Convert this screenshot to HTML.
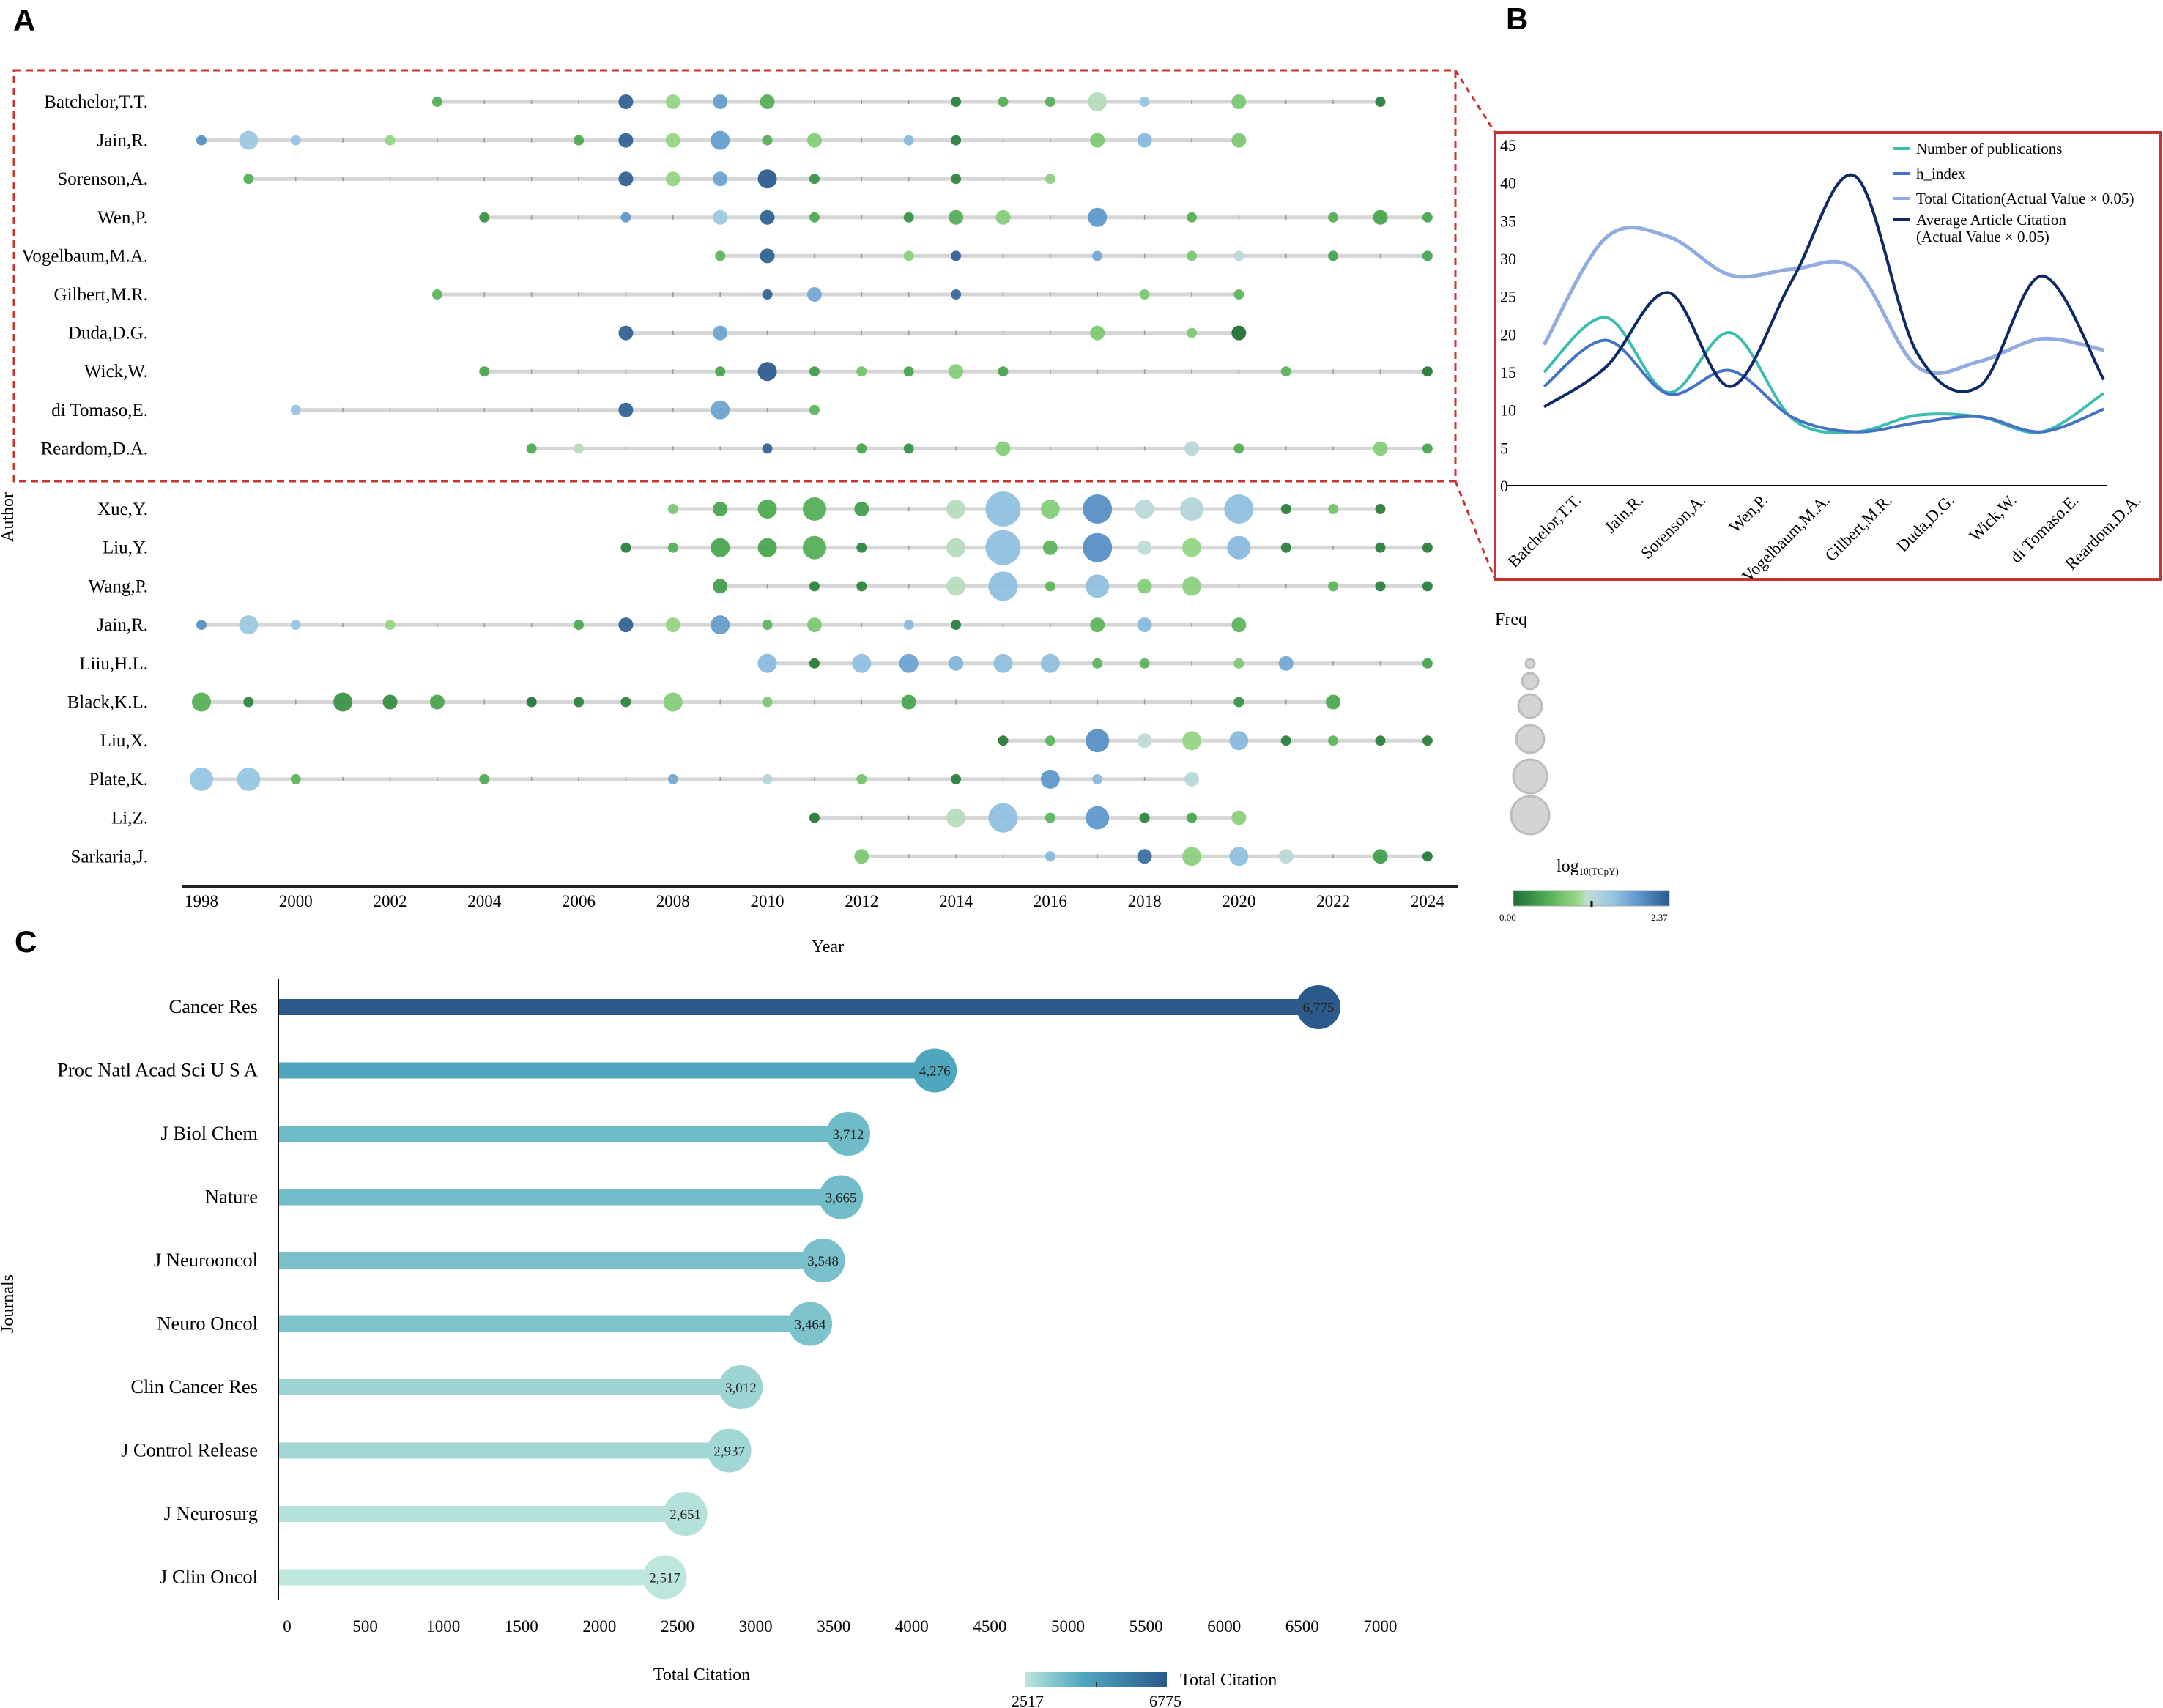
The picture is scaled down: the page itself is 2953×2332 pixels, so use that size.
<!DOCTYPE html>
<html><head><meta charset="utf-8">
<style>
html,body{margin:0;padding:0;background:#fff;}
svg{display:block;font-family:"Liberation Serif",serif;}
</style></head>
<body>
<svg id="fig" width="2953" height="2332" viewBox="0 0 2953 2332" xmlns="http://www.w3.org/2000/svg">
<text x="18" y="42" font-family="Liberation Sans, sans-serif" font-weight="bold" font-size="42">A</text>
<text x="2056" y="40" font-family="Liberation Sans, sans-serif" font-weight="bold" font-size="42">B</text>
<text x="20" y="1300" font-family="Liberation Sans, sans-serif" font-weight="bold" font-size="42">C</text>
<g id="panelA"></g>
<g id="panelB"></g>
<g id="panelC"></g>
</svg>
<script>
const NS='http://www.w3.org/2000/svg';
// ---------- Panel A data ----------
const authorNames=["Batchelor,T.T.","Jain,R.","Sorenson,A.","Wen,P.","Vogelbaum,M.A.","Gilbert,M.R.","Duda,D.G.","Wick,W.","di Tomaso,E.","Reardom,D.A.","Xue,Y.","Liu,Y.","Wang,P.","Jain,R.","Liiu,H.L.","Black,K.L.","Liu,X.","Plate,K.","Li,Z.","Sarkaria,J."];
const yearTicks=[1998,2000,2002,2004,2006,2008,2010,2012,2014,2016,2018,2020,2022,2024];
const rowYears=[
[2003,2007,2008,2009,2010,2014,2015,2016,2017,2018,2020,2023],
[1998,1999,2000,2002,2006,2007,2008,2009,2010,2011,2013,2014,2017,2018,2020],
[1999,2007,2008,2009,2010,2011,2014,2016],
[2004,2007,2009,2010,2011,2013,2014,2015,2017,2019,2022,2023,2024],
[2009,2010,2013,2014,2017,2019,2020,2022,2024],
[2003,2010,2011,2014,2018,2020],
[2007,2009,2017,2019,2020],
[2004,2009,2010,2011,2012,2013,2014,2015,2021,2024],
[2000,2007,2009,2011],
[2005,2006,2010,2012,2013,2015,2019,2020,2023,2024],
[2008,2009,2010,2011,2012,2014,2015,2016,2017,2018,2019,2020,2021,2022,2023],
[2007,2008,2009,2010,2011,2012,2014,2015,2016,2017,2018,2019,2020,2021,2023,2024],
[2009,2011,2012,2014,2015,2016,2017,2018,2019,2022,2023,2024],
[1998,1999,2000,2002,2006,2007,2008,2009,2010,2011,2013,2014,2017,2018,2020],
[2010,2011,2012,2013,2014,2015,2016,2017,2018,2020,2021,2024],
[1998,1999,2001,2002,2003,2005,2006,2007,2008,2010,2013,2020,2022],
[2015,2016,2017,2018,2019,2020,2021,2022,2023,2024],
[1998,1999,2000,2004,2008,2010,2012,2014,2016,2017,2019],
[2011,2014,2015,2016,2017,2018,2019,2020],
[2012,2016,2018,2019,2020,2021,2023,2024]];
const rowFreq=[
[1,2,2,2,2,1,1,1,3,1,2,1],
[1,3,1,1,1,2,2,3,1,2,1,1,2,2,2],
[1,2,2,2,3,1,1,1],
[1,1,2,2,1,1,2,2,3,1,1,2,1],
[1,2,1,1,1,1,1,1,1],
[1,1,2,1,1,1],
[2,2,2,1,2],
[1,1,3,1,1,1,2,1,1,1],
[1,2,3,1],
[1,1,1,1,1,2,2,1,2,1],
[1,2,3,4,2,3,6,3,5,3,4,5,1,1,1],
[1,1,3,3,4,1,3,6,2,5,2,3,4,1,1,1],
[2,1,1,3,5,1,4,2,3,1,1,1],
[1,3,1,1,1,2,2,3,1,2,1,1,2,2,2],
[3,1,3,3,2,3,3,1,1,1,2,1],
[3,1,3,2,2,1,1,1,3,1,2,1,2],
[1,1,4,2,3,3,1,1,1,1],
[4,4,1,1,1,1,1,1,3,1,2],
[1,3,5,1,4,1,1,2],
[2,1,2,3,3,2,2,1]];
const rowTcpy=[
[0.55,2.3,0.95,1.85,0.55,0.15,0.55,0.55,1.08,1.5,0.8,0.15],
[1.95,1.45,1.5,0.95,0.5,2.3,0.95,1.85,0.55,0.85,1.6,0.15,0.8,1.6,0.8],
[0.55,2.3,0.95,1.8,2.35,0.3,0.2,0.9],
[0.3,1.9,1.45,2.3,0.5,0.3,0.55,0.85,1.9,0.55,0.55,0.45,0.45],
[0.6,2.3,0.9,2.3,1.75,0.8,1.2,0.45,0.45],
[0.6,2.3,1.75,2.25,0.8,0.6],
[2.3,1.8,0.8,0.8,0.02],
[0.45,0.45,2.35,0.4,0.75,0.45,0.85,0.45,0.6,0.1],
[1.5,2.3,1.8,0.6],
[0.5,1.08,2.3,0.45,0.3,0.85,1.22,0.55,0.85,0.45],
[0.8,0.45,0.5,0.55,0.4,1.08,1.55,0.85,1.95,1.18,1.25,1.55,0.15,0.75,0.15],
[0.15,0.55,0.45,0.45,0.55,0.2,1.08,1.55,0.6,1.95,1.15,0.95,1.6,0.15,0.15,0.15],
[0.4,0.2,0.2,1.08,1.55,0.6,1.55,0.85,0.9,0.6,0.15,0.15],
[1.95,1.45,1.5,0.95,0.5,2.3,0.95,1.85,0.6,0.8,1.6,0.15,0.6,1.6,0.6],
[1.6,0.1,1.55,1.8,1.65,1.55,1.55,0.6,0.6,0.8,1.75,0.45],
[0.55,0.2,0.3,0.25,0.45,0.1,0.2,0.2,0.85,0.8,0.45,0.3,0.5],
[0.1,0.6,1.95,1.15,0.95,1.6,0.15,0.6,0.15,0.15],
[1.5,1.5,0.6,0.5,1.75,1.25,0.75,0.15,1.9,1.6,1.22],
[0.1,1.08,1.55,0.6,1.9,0.2,0.45,0.9],
[0.8,1.6,2.2,0.9,1.55,1.2,0.4,0.1]];

// ---------- Panel B data ----------
const bCats=["Batchelor,T.T.","Jain,R.","Sorenson,A.","Wen,P.","Vogelbaum,M.A.","Gilbert,M.R.","Duda,D.G.","Wick,W.","di Tomaso,E.","Reardom,D.A."];
const bPubs=[15.0,22.2,12.3,20.2,8.8,7.1,9.3,9.1,7.1,12.2];
const bHindex=[13.1,19.2,12.1,15.2,9.0,7.1,8.3,9.1,7.1,10.1];
const bTotal=[18.6,32.8,32.9,27.8,28.6,28.6,15.7,16.4,19.4,17.9];
const bAvg=[10.4,15.7,25.5,13.1,27.3,40.9,17.5,13.1,27.7,14.0];
const bYTicks=[0,5,10,15,20,25,30,35,40,45];
const bSeriesNames=["Number of publications","h_index","Total Citation(Actual Value × 0.05)","Average Article Citation"];

// ---------- Panel C data ----------
const journals=["Cancer Res","Proc Natl Acad Sci U S A","J Biol Chem","Nature","J Neurooncol","Neuro Oncol","Clin Cancer Res","J Control Release","J Neurosurg","J Clin Oncol"];
const citations=[6775,4276,3712,3665,3548,3464,3012,2937,2651,2517];
const citeLabels=["6,775","4,276","3,712","3,665","3,548","3,464","3,012","2,937","2,651","2,517"];
const cTicks=[0,500,1000,1500,2000,2500,3000,3500,4000,4500,5000,5500,6000,6500,7000];

function mk(tag,attrs,parent,text){const e=document.createElementNS(NS,tag);for(const k in attrs)e.setAttribute(k,attrs[k]);if(text!==undefined)e.textContent=text;parent.appendChild(e);return e;}
function hex(c){return [parseInt(c.slice(1,3),16),parseInt(c.slice(3,5),16),parseInt(c.slice(5,7),16)];}
function lerpStops(stops,v){if(v<=stops[0][0])return stops[0][1];for(let i=1;i<stops.length;i++){if(v<=stops[i][0]){const t=(v-stops[i-1][0])/(stops[i][0]-stops[i-1][0]);const a=hex(stops[i-1][1]),b=hex(stops[i][1]);return 'rgb('+a.map((x,j)=>Math.round(x+(b[j]-x)*t)).join(',')+')';}}return stops[stops.length-1][1];}
const tStops=[[0,'#1f6e37'],[0.5,'#4fab52'],[1.0,'#9edb8c'],[1.12,'#c3ddd6'],[1.5,'#98c6e4'],[1.9,'#5f98cc'],[2.37,'#2b5a8c']];
const radii=[0,7,10,13,16,20,24];

// ---------- Panel A draw ----------
const gA=document.getElementById('panelA');
const xYear=y=>275+(y-1998)*64.38;
const yRow=i=>i<10?139+i*52.6:695+(i-10)*52.7;
mk('rect',{x:19,y:96,width:1968,height:561,fill:'none',stroke:'#c8352f','stroke-width':3,'stroke-dasharray':'10,6',},gA);
mk('line',{x1:1987,y1:96,x2:2041,y2:181,stroke:'#c8352f','stroke-width':3,'stroke-dasharray':'8,6',},gA);
mk('line',{x1:1987,y1:657,x2:2041,y2:791,stroke:'#c8352f','stroke-width':3,'stroke-dasharray':'8,6',},gA);
authorNames.forEach((n,i)=>{
  const y=yRow(i);const yrs=rowYears[i];
  const row=mk('g',{},gA);
  
  
  const lab=mk('text',{x:202,y:y+8,'text-anchor':'end','font-size':25},row,n);
  
  
  const a=yrs[0],b=yrs[yrs.length-1];
  const ln=mk('line',{x1:xYear(a),y1:y,x2:xYear(b),y2:y,stroke:'#d6d6d6','stroke-width':5},row);
  
  
  for(let yy=a;yy<=b;yy++){const t=mk('line',{x1:xYear(yy),y1:y-3,x2:xYear(yy),y2:y+3,stroke:'#999','stroke-width':1.5},row);}
  yrs.forEach((yy,k)=>{
    const c=mk('circle',{cx:xYear(yy),cy:y,r:radii[rowFreq[i][k]],fill:lerpStops(tStops,rowTcpy[i][k]),'fill-opacity':0.95},row);
    
    
  });
});
mk('line',{x1:248,y1:1211,x2:1990,y2:1211,stroke:'#222','stroke-width':4,},gA);
yearTicks.forEach(y=>{const t=mk('text',{x:xYear(y),y:1238,'text-anchor':'middle','font-size':23},gA,String(y));});
mk('text',{x:1130,y:1300,'text-anchor':'middle','font-size':24,},gA,'Year');
mk('text',{x:0,y:0,transform:'translate(18,706) rotate(-90)','text-anchor':'middle','font-size':24,},gA,'Author');
mk('text',{x:2041,y:853,'font-size':24,},gA,'Freq');
[[906,6],[930,11],[964,16],[1009,19],[1060,23],[1113,26]].forEach(p=>{const c=mk('circle',{cx:2089,cy:p[0],r:p[1],fill:'#d4d4d4',stroke:'#bdbdbd','stroke-width':3},gA);});
const tl=mk('text',{x:2125,y:1190,'font-size':24,},gA,'log');
mk('tspan',{'font-size':13,dy:4},tl,'10(TCpY)');
const defs=mk('defs',{},document.getElementById('fig'));
const lgA=mk('linearGradient',{id:'gradA',x1:0,x2:1,y1:0,y2:0},defs);
tStops.forEach(s=>mk('stop',{offset:(s[0]/2.37),'stop-color':s[1]},lgA));
mk('rect',{x:2066,y:1216,width:213,height:21,fill:'url(#gradA)',stroke:'#aaa',},gA);
mk('line',{x1:2173,y1:1230,x2:2173,y2:1239,stroke:'#000','stroke-width':3},gA);
mk('text',{x:2047,y:1257,'font-size':13,},gA,'0.00');
mk('text',{x:2254,y:1257,'font-size':13,},gA,'2.37');

// ---------- Panel B draw ----------
const gB=document.getElementById('panelB');
const bx=i=>2108+i*84.9;
const by=v=>663-v*(465/45);
mk('rect',{x:2041,y:181,width:908,height:610,fill:'none',stroke:'#c8352f','stroke-width':4,},gB);
mk('line',{x1:2058,y1:663,x2:2876,y2:663,stroke:'#000','stroke-width':2,},gB);
bYTicks.forEach(v=>{const t=mk('text',{x:2048,y:by(v)+8,'font-size':22},gB,String(v));});
bCats.forEach((c,i)=>{const t=mk('text',{x:0,y:0,transform:`translate(${bx(i)+52},684) rotate(-45)`,'text-anchor':'end','font-size':23},gB,c);});
function smooth(vals){const p=vals.map((v,i)=>[bx(i),by(v)]);let d='M'+p[0][0]+','+p[0][1];for(let i=0;i<p.length-1;i++){const p0=p[i-1]||p[i],p1=p[i],p2=p[i+1],p3=p[i+2]||p[i+1];const c1=[p1[0]+(p2[0]-p0[0])/6,p1[1]+(p2[1]-p0[1])/6],c2=[p2[0]-(p3[0]-p1[0])/6,p2[1]-(p3[1]-p1[1])/6];d+=` C${c1[0]},${c1[1]} ${c2[0]},${c2[1]} ${p2[0]},${p2[1]}`;}return d;}
const bSeries=[bTotal,bPubs,bHindex,bAvg];
const bColors=['#93acdf','#3dbdae','#4472c4','#0e2a66'];
const bNames=['line-total-citation','line-publications','line-h-index','line-average-citation'];
bSeries.forEach((s,k)=>{const p=mk('path',{d:smooth(s),fill:'none',stroke:bColors[k],'stroke-width':k==0?5:4},gB);});
const legC=['#3dbdae','#4472c4','#93acdf','#0e2a66'];
[203,237,271,300].forEach((y,k)=>{
  const l=mk('line',{x1:2584,y1:y,x2:2608,y2:y,stroke:legC[k],'stroke-width':4},gB);
  
  const t=mk('text',{x:2616,y:y+7,'font-size':21},gB,bSeriesNames[k]);
  
});
mk('text',{x:2616,y:330,'font-size':21,},gB,'(Actual Value × 0.05)');

// ---------- Panel C draw ----------
const gC=document.getElementById('panelC');
const cx=v=>380+v*0.2096;
const cy=i=>1375+i*86.5;
const cStops=[[2517,'#bde6dc'],[3500,'#7cc2cb'],[4300,'#4ea6bf'],[6775,'#2b5a8a']];
mk('line',{x1:380,y1:1337,x2:380,y2:2185,stroke:'#000','stroke-width':2,},gC);
journals.forEach((j,i)=>{
  const y=cy(i);const col=lerpStops(cStops,citations[i]);
  const t=mk('text',{x:352,y:y+8,'text-anchor':'end','font-size':26.5},gC,j);
  
  const r=mk('rect',{x:381,y:y-11,width:cx(citations[i])-381,height:22,fill:col},gC);
  
  const c=mk('circle',{cx:cx(citations[i]),cy:y,r:30,fill:col},gC);
  
  const v=mk('text',{x:cx(citations[i]),y:y+7,'text-anchor':'middle','font-size':19,fill:'#222'},gC,citeLabels[i]);
  
});
cTicks.forEach((v,i)=>{const t=mk('text',{x:392+i*106.6,y:2228,'text-anchor':'middle','font-size':23},gC,String(v));});
mk('text',{x:958,y:2294,'text-anchor':'middle','font-size':24,},gC,'Total Citation');
mk('text',{x:0,y:0,transform:'translate(18,1780) rotate(-90)','text-anchor':'middle','font-size':24,},gC,'Journals');
const lgC=mk('linearGradient',{id:'gradC',x1:0,x2:1,y1:0,y2:0},defs);
cStops.forEach(s=>mk('stop',{offset:(s[0]-2517)/(6775-2517),'stop-color':s[1]},lgC));
mk('rect',{x:1399,y:2283,width:194,height:20,fill:'url(#gradC)',},gC);
mk('line',{x1:1497,y1:2296,x2:1497,y2:2304,stroke:'#333','stroke-width':2},gC);
mk('text',{x:1611,y:2301,'font-size':24,},gC,'Total Citation');
mk('text',{x:1403,y:2330,'text-anchor':'middle','font-size':22,},gC,'2517');
mk('text',{x:1591,y:2330,'text-anchor':'middle','font-size':22,},gC,'6775');
</script>
</body></html>
